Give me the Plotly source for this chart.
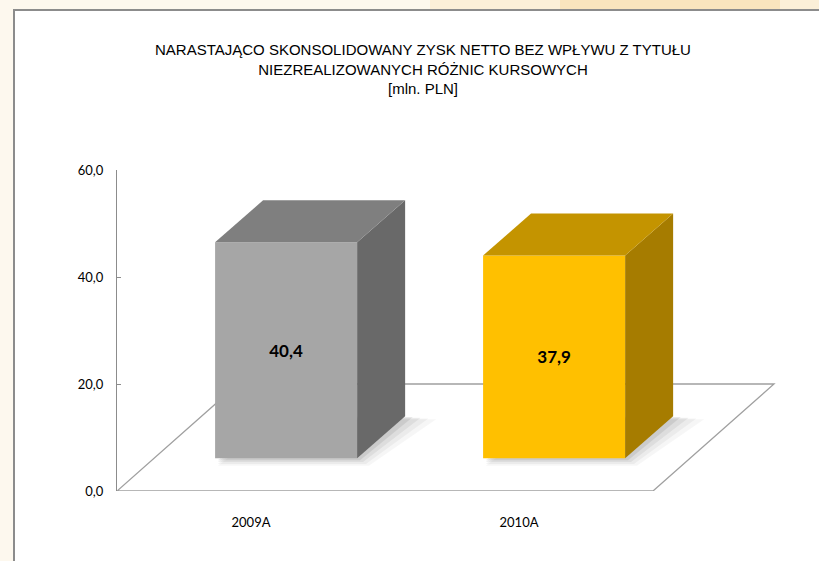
import plotly.graph_objects as go

# ---- data ----
categories = ["2009A", "2010A"]
values = [40.4, 37.9]
front_colors = ["#A6A6A6", "#FFC000"]
top_colors = ["#7F7F7F", "#C49400"]
side_colors = ["#696969", "#A67C00"]
y_ticks = [0, 20, 40, 60]
title_lines = [
    "NARASTAJĄCO SKONSOLIDOWANY ZYSK NETTO BEZ WPŁYWU Z TYTUŁU",
    "NIEZREALIZOWANYCH RÓŻNIC KURSOWYCH",
    "[mln. PLN]",
]

# ---- geometry (style constants, axis units) ----
W, H = 819, 561
L, R, T, B = 117, 19, 170, 70
plot_w = W - L - R
plot_h = H - T - B
CAT_PX = 268.0
x_range = [-0.5, -0.5 + plot_w / CAT_PX]
y_range = [0, 60]
px_per_y = plot_h / (y_range[1] - y_range[0])

floor_dx = 121 / CAT_PX          # floor depth in category units
floor_dy = 107 / px_per_y        # floor depth in value units
bar_shift = 0.131                # bar set back from category centre
bar_w = 0.53
bar_base = 6.1
depth_dx = 48 / CAT_PX
depth_dy = 42 / px_per_y

n = len(categories)


def px_to_paper_x(px):
    return (px - L) / plot_w


def px_to_paper_y(py):
    return (H - B - py) / plot_h


shapes = [
    # orange glow on top strip
    dict(type="rect", xref="paper", yref="paper", layer="below",
         x0=px_to_paper_x(430), x1=px_to_paper_x(830), y0=px_to_paper_y(10), y1=px_to_paper_y(-5),
         fillcolor="rgba(250,220,165,0.30)", line=dict(width=0)),
    dict(type="rect", xref="paper", yref="paper", layer="below",
         x0=px_to_paper_x(560), x1=px_to_paper_x(780), y0=px_to_paper_y(10), y1=px_to_paper_y(-5),
         fillcolor="rgba(250,205,130,0.30)", line=dict(width=0)),
    # white panel with grey frame
    dict(type="rect", xref="paper", yref="paper", layer="below",
         x0=px_to_paper_x(14), x1=px_to_paper_x(840), y0=px_to_paper_y(580), y1=px_to_paper_y(10),
         fillcolor="white", line=dict(color="#8C8C8C", width=2)),
]

# floor (parallelogram in axis coordinates)
fx = [-0.5, n - 0.5, n - 0.5 + floor_dx, -0.5 + floor_dx]
fy = [0, 0, floor_dy, floor_dy]
path = "M " + " L ".join(f"{a},{b}" for a, b in zip(fx, fy)) + " Z"
shapes.append(dict(type="path", xref="x", yref="y", layer="below", path=path,
                   fillcolor="white", line=dict(color="#A0A0A0", width=1.3)))

# soft shadows on the floor
for i, v in enumerate(values):
    cx = i + bar_shift
    x0, x1 = cx - bar_w / 2, cx + bar_w / 2
    for k, a in [(4, 0.035), (3, 0.045), (2, 0.06), (1, 0.08)]:
        ox = 0.011 * k
        oy = -0.35 * k
        sx = [x0 + 0.01, x1 + ox, x1 + depth_dx + ox + 0.018 * k, x0 + depth_dx + ox + 0.01]
        sy = [bar_base + oy, bar_base + oy, bar_base + depth_dy + oy * 0.4, bar_base + depth_dy + oy * 0.4]
        p = "M " + " L ".join(f"{a_},{b_}" for a_, b_ in zip(sx, sy)) + " Z"
        shapes.append(dict(type="path", xref="x", yref="y", layer="below", path=p,
                           fillcolor=f"rgba(0,0,0,{a})", line=dict(width=0)))

fig = go.Figure()

# bar front faces
fig.add_trace(go.Bar(
    x=[i + bar_shift for i in range(n)], y=values, base=bar_base, width=bar_w,
    marker=dict(color=front_colors, line=dict(width=0)),
    texttemplate="%{y:.1f}", textposition="inside", insidetextanchor="middle",
    textangle=0,
    textfont=dict(family="Lato, Open Sans, sans-serif", size=17, color="black", weight="bold"),
    hoverinfo="skip", showlegend=False))

# side and top faces
for i, v in enumerate(values):
    cx = i + bar_shift
    x0, x1 = cx - bar_w / 2, cx + bar_w / 2
    top = bar_base + v
    sx = [x1, x1 + depth_dx, x1 + depth_dx, x1, x1]
    sy = [bar_base, bar_base + depth_dy, top + depth_dy, top, bar_base]
    fig.add_trace(go.Scatter(x=sx, y=sy, mode="lines", fill="toself",
                             fillcolor=side_colors[i], line=dict(width=0),
                             hoverinfo="skip", showlegend=False))
    tx = [x0, x0 + depth_dx, x1 + depth_dx, x1, x0]
    ty = [top, top + depth_dy, top + depth_dy, top, top]
    fig.add_trace(go.Scatter(x=tx, y=ty, mode="lines", fill="toself",
                             fillcolor=top_colors[i], line=dict(width=0),
                             hoverinfo="skip", showlegend=False))

fig.update_layout(
    width=W, height=H,
    margin=dict(l=L, r=R, t=T, b=B, pad=0),
    paper_bgcolor="#FDF8EE",
    plot_bgcolor="rgba(0,0,0,0)",
    separators=", ",
    shapes=shapes,
    showlegend=False,
    title=dict(
        text="<br>".join(title_lines),
        x=423 / W, xref="container", xanchor="center",
        y=1 - 55 / H, yref="container", yanchor="middle",
        font=dict(family="Liberation Sans Narrow, Arial Narrow, Liberation Sans, sans-serif",
                  size=15, color="black"),
    ),
    xaxis=dict(range=x_range, tickmode="array", tickvals=list(range(n)), ticktext=categories,
               showgrid=False, zeroline=False, showline=False, ticks="",
               ticklabelstandoff=22,
               tickfont=dict(family="Lato, Open Sans, sans-serif", size=13, color="black")),
    yaxis=dict(range=y_range, tickmode="array", tickvals=y_ticks, tickformat=".1f",
               showgrid=False, zeroline=False, showline=True, linecolor="#8C8C8C", linewidth=1.3,
               ticks="inside", ticklen=4, tickcolor="#8C8C8C", ticklabelstandoff=10,
               tickfont=dict(family="Lato, Open Sans, sans-serif", size=13, color="black")),
)

fig.write_html("out.html", config={"displayModeBar": False},
               post_script="document.body.style.margin='0';document.body.style.overflow='hidden';")
